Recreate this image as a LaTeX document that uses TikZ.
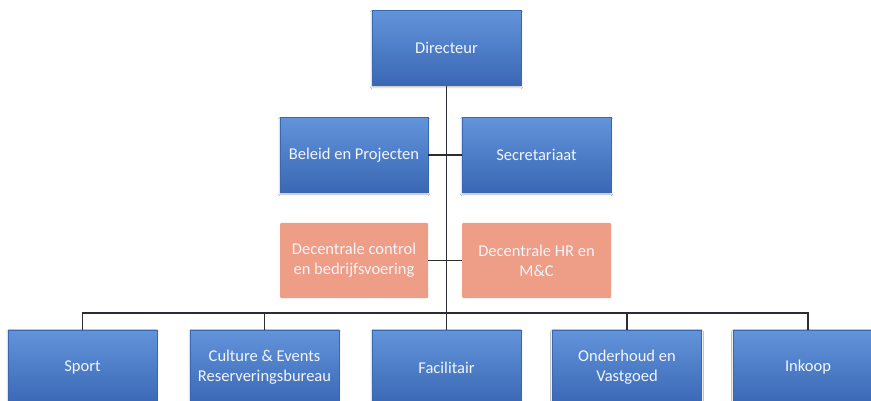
\documentclass[tikz,border=0pt]{standalone}
\usepackage{fontspec}
\setmainfont{Carlito}
\usetikzlibrary{shadows.blur}
\definecolor{boxtop}{HTML}{6294DA}
\definecolor{boxbot}{HTML}{3A67B4}
\definecolor{staffbox}{HTML}{EE9D87}
\definecolor{linkline}{HTML}{2A2D33}
\definecolor{labeltext}{HTML}{F2F5FA}
\tikzset{
  unit/.style={rectangle, minimum width=149pt, minimum height=75pt, inner sep=0pt,
    align=center, font=\fontsize{16.5}{20}\selectfont, text=labeltext},
  bluebox/.style={unit, top color=boxtop, bottom color=boxbot, draw=boxbot, line width=0.3pt,
    blur shadow={shadow xshift=0pt, shadow yshift=-1.5pt, shadow blur steps=4, shadow opacity=30}},
  orangebox/.style={unit, fill=staffbox, minimum width=148pt, rounded corners=1pt},
  link/.style={draw=linkline, line width=1.3pt}
}
\begin{document}
\begin{tikzpicture}[x=1pt, y=-1pt]
\useasboundingbox (0,0) rectangle (871,401);
\fill[white] (0,0) rectangle (871,401);
\clip (0,0) rectangle (871,401);

% management
\node[bluebox] (dir) at (446.5,48) {Directeur};
\node[bluebox, minimum width=148pt] (bel) at (354,155) {Beleid en Projecten};
\node[bluebox] (sec) at (536.5,155) {Secretariaat};

% staff units
\node[orangebox] (dc) at (354,260.5) {Decentrale control\\en bedrijfsvoering};
\node[orangebox, minimum width=149pt] (dhr) at (536.5,260.5) {Decentrale HR en\\M\&C};

% departments
\node[bluebox] (sport) at (82.5,367.5) {Sport};
\node[bluebox] (cult) at (264.5,367.5) {Culture \& Events\\Reserveringsbureau};
\node[bluebox] (fac) at (446.5,367.5) {Facilitair};
\node[bluebox] (ond) at (627,367.5) {Onderhoud en\\Vastgoed};
\node[bluebox] (ink) at (808,367.5) {Inkoop};

\coordinate (bus) at (446.5,313);

% connectors
\draw[link] (dir.south) -- (fac.north);
\draw[link] (bel.east) -- (bel.east -| dir.south);
\draw[link] (sec.west) -- (sec.west -| dir.south);
\draw[link] (dc.east) -- (dc.east -| dir.south);
\draw[link] (dhr.west) -- (dhr.west -| dir.south);
\draw[link] (sport.north) |- (bus) -| (ink.north);
\draw[link] (cult.north) -- (cult.north |- bus);
\draw[link] (ond.north) -- (ond.north |- bus);
\end{tikzpicture}
\end{document}
